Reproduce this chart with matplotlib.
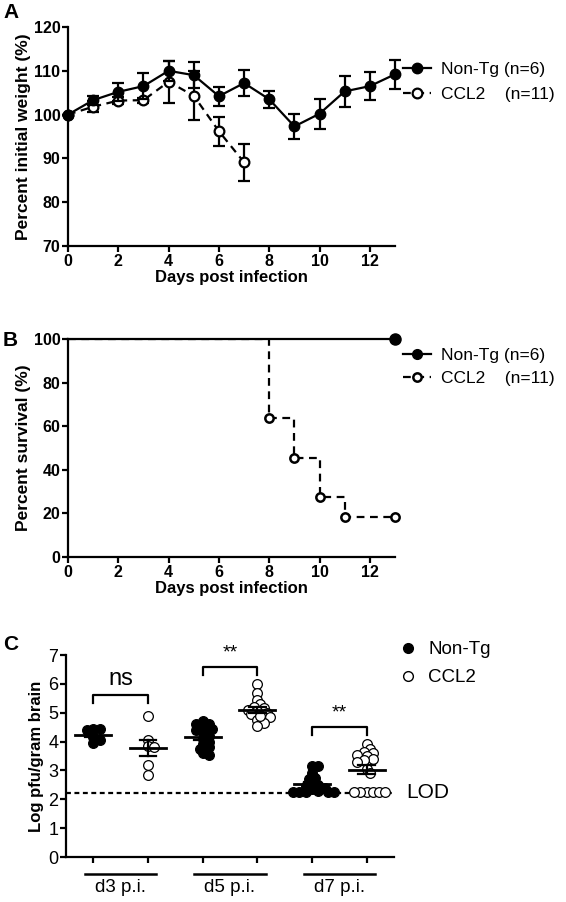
import numpy as np
import matplotlib
matplotlib.use("Agg")
import matplotlib.pyplot as plt
from matplotlib.lines import Line2D

plt.rcParams['font.family'] = ['Liberation Sans', 'DejaVu Sans']

W, H = 566, 902

# panel A - body weight
days_w = [0, 1, 2, 3, 4, 5, 6, 7, 8, 9, 10, 11, 12, 13]
wt_nontg = [100, 103.3, 105.2, 106.5, 110, 109, 104.2, 107.2, 103.5, 97.3, 100.2, 105.3, 106.5, 109.2]
wt_nontg_err = [0, 1.0, 2.0, 3.0, 2.3, 2.9, 2.2, 3.0, 2.0, 2.8, 3.4, 3.5, 3.2, 3.3]
days_ccl2 = [0, 1, 2, 3, 4, 5, 6, 7]
wt_ccl2 = [100, 101.8, 103.2, 103.3, 107.5, 104.3, 96.2, 89.1]
wt_ccl2_err = [0, 1.2, 0.8, 0.6, 4.8, 5.6, 3.3, 4.2]

# panel B - survival
surv_days_nontg = [0, 13]
surv_nontg = [100, 100]
surv_days_ccl2 = [0, 8, 9, 10, 11, 13]
surv_ccl2 = [100, 63.6, 45.5, 27.3, 18.2, 18.2]

# panel C - viral titre
groups = ['d3 p.i.', 'd5 p.i.', 'd7 p.i.']
titre_nontg = [
    [4.45, 4.42, 4.4, 4.15, 4.05, 3.95],
    [4.7, 4.6, 4.5, 4.45, 4.4, 4.3, 4.2, 4.1, 4.0, 3.9, 3.8, 3.75, 3.6, 3.55, 4.6],
    [3.15, 3.15, 2.9, 2.75, 2.7, 2.55, 2.5, 2.45, 2.4, 2.35, 2.3, 2.25, 2.25, 2.25, 2.25, 2.25],
]
titre_ccl2 = [
    [4.9, 4.05, 3.85, 3.8, 3.2, 2.85],
    [6.0, 5.7, 5.45, 5.3, 5.2, 5.15, 5.1, 5.05, 5.0, 4.95, 4.85, 4.75, 4.65, 4.55, 4.9],
    [3.9, 3.75, 3.65, 3.6, 3.55, 3.5, 3.4, 3.35, 3.3, 3.05, 2.9, 2.25, 2.25, 2.25, 2.25, 2.25, 2.25],
]
lod = 2.23
sig_labels = ['ns', '**', '**']
sig_heights = [5.6, 6.58, 4.5]

DASH = (0, (3.5, 2.5))


def px_axes(l, t, r, b):
    return fig.add_axes([l / W, 1 - b / H, (r - l) / W, (b - t) / H])


def style(ax, bold=True, size=11.5):
    for s in ['top', 'right']:
        ax.spines[s].set_visible(False)
    for s in ['left', 'bottom']:
        ax.spines[s].set_linewidth(1.6)
    ax.tick_params(width=1.6, length=4.5, labelsize=size, pad=1)
    if bold:
        for lab in ax.get_xticklabels() + ax.get_yticklabels():
            lab.set_fontweight('bold')


def swarm(vals, center, xs=54.8, ys=28.86, d=9.5):
    # simple deterministic beeswarm with overlap allowed
    vals = np.asarray(vals)
    out = np.zeros(len(vals))
    placed = []
    steps = [0]
    for k in range(1, 10):
        steps += [k, -k]
    for i in np.argsort(-vals):
        y = vals[i] * ys
        for k in steps:
            x = k * d * 0.33
            if all((x - px) ** 2 + (y - py) ** 2 >= (0.5 * d) ** 2 for px, py in placed):
                break
        placed.append((x, y))
        out[i] = center + x / xs
    return out


fig = plt.figure(figsize=(W / 100, H / 100), dpi=100)

# ---------- A ----------
axA = px_axes(68, 27, 395, 246)
axA.errorbar(days_ccl2, wt_ccl2, yerr=wt_ccl2_err, color='black', ls=DASH, lw=1.6,
             marker='o', ms=7, mfc='white', mec='black', mew=1.6, capsize=4.5, capthick=1.6,
             elinewidth=1.6, clip_on=False, zorder=3)
axA.errorbar(days_w, wt_nontg, yerr=wt_nontg_err, color='black', lw=1.6,
             marker='o', ms=7.5, mfc='black', mec='black', capsize=4.5, capthick=1.6,
             elinewidth=1.6, clip_on=False, zorder=4)
axA.set_xlim(0, 13)
axA.set_ylim(70, 120)
axA.set_xticks(range(0, 13, 2))
axA.set_yticks(range(70, 121, 10))
style(axA)
axA.set_xlabel('Days post infection', fontsize=12, fontweight='bold', labelpad=1)
axA.set_ylabel('Percent initial weight (%)', fontsize=12.5, fontweight='bold', labelpad=2)
ha = [Line2D([], [], color='black', lw=1.6, marker='o', ms=7.5),
      Line2D([], [], color='black', lw=1.6, ls=DASH, marker='o', ms=7, mfc='white', mew=1.6)]
axA.legend(ha, ['Non-Tg (n=6)', 'CCL2    (n=11)'], loc='upper left', bbox_to_anchor=(403 / W, 1 - 62 / H),
           bbox_transform=fig.transFigure, frameon=False, fontsize=12.5, handlelength=1.6,
           handletextpad=0.6, labelspacing=0.55, borderpad=0, borderaxespad=0)

# ---------- B ----------
axB = px_axes(68, 339, 395, 557)
axB.plot(surv_days_ccl2, surv_ccl2, color='black', ls=DASH, lw=1.6, drawstyle='steps-post',
         zorder=3)
axB.plot(surv_days_ccl2[1:], surv_ccl2[1:], ls='none', marker='o', ms=6, mfc='white', mec='black',
         mew=1.8, clip_on=False, zorder=4)
axB.plot(surv_days_nontg, surv_nontg, color='black', lw=1.6, marker='o', ms=8, markevery=[1],
         clip_on=False, zorder=5)
axB.set_xlim(0, 13)
axB.set_ylim(0, 100)
axB.set_xticks(range(0, 13, 2))
axB.set_yticks(range(0, 101, 20))
style(axB)
axB.set_xlabel('Days post infection', fontsize=12, fontweight='bold', labelpad=1)
axB.set_ylabel('Percent survival (%)', fontsize=12.5, fontweight='bold', labelpad=2)
hb = [Line2D([], [], color='black', lw=1.6, marker='o', ms=7),
      Line2D([], [], color='black', lw=1.6, ls=DASH, marker='o', ms=6, mfc='white', mew=1.8)]
axB.legend(hb, ['Non-Tg (n=6)', 'CCL2    (n=11)'], loc='upper left', bbox_to_anchor=(403 / W, 1 - 348 / H),
           bbox_transform=fig.transFigure, frameon=False, fontsize=12.5, handlelength=1.6,
           handletextpad=0.6, labelspacing=0.45, borderpad=0, borderaxespad=0)

# ---------- C ----------
axC = px_axes(66, 655, 394, 857)
for g in range(3):
    for j, (vals, filled) in enumerate([(titre_nontg[g], True), (titre_ccl2[g], False)]):
        c = 2 * g + 1 + j
        xs = swarm(vals, c)
        axC.plot(xs, vals, ls='none', marker='o', ms=7, mfc='black' if filled else 'white',
                 mec='black', mew=0.9, zorder=3, clip_on=False)
        m = np.mean(vals)
        se = np.std(vals, ddof=1) / np.sqrt(len(vals))
        axC.plot([c - 0.33, c + 0.33], [m, m], color='black', lw=2, zorder=4)
        axC.plot([c, c], [m - se, m + se], color='black', lw=1.6, zorder=4)
        for v in (m - se, m + se):
            axC.plot([c - 0.15, c + 0.15], [v, v], color='black', lw=1.6, zorder=4)
    # brackets
    x1, x2 = 2 * g + 1, 2 * g + 2
    yb = sig_heights[g]
    axC.plot([x1, x1, x2, x2], [yb - 0.28, yb, yb, yb - 0.28], color='black', lw=1.6, clip_on=False)
    axC.text((x1 + x2) / 2, yb + 0.18, sig_labels[g], ha='center', va='bottom',
             fontsize=17 if sig_labels[g] == 'ns' else 14)
    # group underline + label
    cx = (x1 + x2) / 2
    axC.plot([cx - 0.65, cx + 0.65], [-0.59, -0.59], color='black', lw=1.8, clip_on=False)
    axC.text(cx, -0.75, groups[g], ha='center', va='top', fontsize=13.5)

axC.plot([0.5, 6.5], [lod, lod], color='black', lw=1.6, ls=(0, (2.2, 1.6)), clip_on=False, zorder=2)
axC.text(6.73, lod, 'LOD', ha='left', va='center', fontsize=15)
axC.set_xlim(0.5, 6.5)
axC.set_ylim(0, 7)
axC.set_xticks(range(1, 7))
axC.set_xticklabels([])
axC.set_yticks(range(0, 8))
style(axC, bold=False, size=13)
axC.set_ylabel('Log pfu/gram brain', fontsize=12, fontweight='bold', labelpad=3)
hc = [Line2D([], [], ls='none', marker='o', ms=7, mfc='black', mec='black'),
      Line2D([], [], ls='none', marker='o', ms=7, mfc='white', mec='black', mew=1)]
axC.legend(hc, ['Non-Tg', 'CCL2'], loc='upper left', bbox_to_anchor=(400 / W, 1 - 641 / H),
           bbox_transform=fig.transFigure, frameon=False, fontsize=13.5, handlelength=0.8,
           handletextpad=0.7, labelspacing=0.6, borderpad=0, borderaxespad=0)

# panel letters
for letter, y in [('A', 12), ('B', 340), ('C', 645)]:
    fig.text(3 / W, 1 - y / H, letter, fontsize=15, fontweight='bold', va='center', ha='left')

fig.savefig('out.png', dpi=100)
